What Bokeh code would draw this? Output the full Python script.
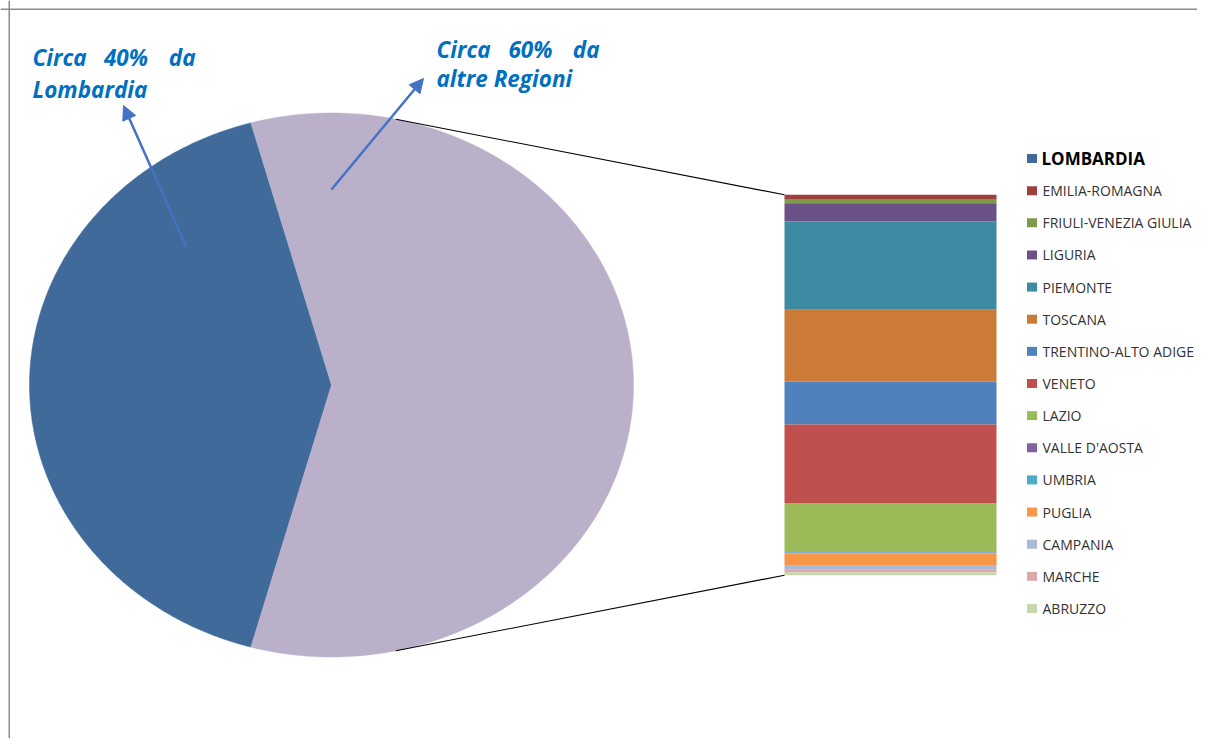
import numpy as np
from bokeh.plotting import figure
from bokeh.models import Range1d, Arrow, NormalHead, Span, ColumnDataSource
from bokeh.core.properties import value
from bokeh.embed import file_html
from bokeh.resources import INLINE

# ---- data (percent of total) ----
main_label = "LOMBARDIA"
main_value = 41.4
other_label = "ALTRE REGIONI"

regions = ["EMILIA-ROMAGNA", "FRIULI-VENEZIA GIULIA", "LIGURIA", "PIEMONTE",
           "TOSCANA", "TRENTINO-ALTO ADIGE", "VENETO", "LAZIO", "VALLE D'AOSTA",
           "UMBRIA", "PUGLIA", "CAMPANIA", "MARCHE", "ABRUZZO"]
region_values = [0.77, 0.53, 2.77, 13.64, 11.05, 6.62, 12.12, 7.55, 0.08,
                 0.13, 1.89, 0.53, 0.51, 0.42]
region_colors = ["#9E413E", "#7F9A48", "#6A5188", "#3C8BA3", "#CB7A38", "#4F81BD",
                 "#C0504D", "#9BBB59", "#8064A2", "#4BACC6", "#F79646", "#A9B9D8",
                 "#DBA9A8", "#C6D8AB"]
main_color = "#3F6A99"
other_color = "#BAB0CA"

ann_left = ["Circa", "40%", "da", "Lombardia"]
ann_right = ["Circa", "60%", "da", "altre Regioni"]

# ---- layout ----
W, H = 1197, 738
p = figure(width=W, height=H, output_backend="svg", toolbar_location=None,
           x_range=Range1d(0, W), y_range=Range1d(H, 0),
           min_border=0, outline_line_color=None)
p.axis.visible = False
p.grid.visible = False
p.background_fill_color = "white"

p.add_layout(Span(location=8.75, dimension="height", line_color="#8C8C8C", line_width=1.5))
p.add_layout(Span(location=8.75, dimension="width", line_color="#8C8C8C", line_width=1.5))

# ---- pie (elliptical) ----
cx, cy, rx, ry = 331, 384.5, 302, 272
other_value = sum(region_values)
total = main_value + other_value
main_span = 360.0 * main_value / total
a0 = 180 - main_span / 2
a1 = 180 + main_span / 2

def wedge_poly(start_deg, end_deg):
    t = np.radians(np.linspace(start_deg, end_deg, 240))
    xs = np.concatenate([[cx], cx + rx * np.cos(t), [cx]])
    ys = np.concatenate([[cy], cy - ry * np.sin(t), [cy]])
    return list(xs), list(ys)

xm, ym = wedge_poly(a0, a1)
xo, yo = wedge_poly(a1, a0 + 360)
p.patches(xs=[xm, xo], ys=[ym, yo], fill_color=[main_color, other_color],
          line_color=[main_color, other_color], line_width=0.5)

# ---- bar of pie ----
bar_left, bar_right, bar_top, bar_h = 784, 996, 194.3, 380.4
scale = bar_h / other_value
cum = np.concatenate([[0], np.cumsum(region_values)])
tops = bar_top + cum[:-1] * scale
bottoms = bar_top + cum[1:] * scale
src = ColumnDataSource(dict(top=tops, bottom=bottoms, color=region_colors, name=regions))
p.quad(left=bar_left, right=bar_right, top="top", bottom="bottom",
       fill_color="color", line_color=None, source=src)

# ---- connector lines ----
ang = np.radians(77.7)
p.segment(x0=[cx + rx * np.cos(ang), cx + rx * np.cos(-ang)],
          y0=[cy - ry * np.sin(ang), cy - ry * np.sin(-ang)],
          x1=[bar_left, bar_left], y1=[bar_top, bar_top + bar_h],
          line_color="black", line_width=1.1)

# ---- legend ----
leg_labels = [main_label] + regions
leg_colors = [main_color] + region_colors
leg_y = [158 + i * 32.14 for i in range(len(leg_labels))]
p.rect(x=1031.5, y=leg_y, width=10, height=9, fill_color=leg_colors, line_color=None)
p.text(x=[1041], y=[leg_y[0]], text=[leg_labels[0]], text_font=value("Open Sans"),
       text_font_size="17px", text_font_style="bold", text_color="#000000",
       text_baseline="middle", text_align="left")
p.text(x=[1042] * len(regions), y=leg_y[1:], text=leg_labels[1:],
       text_font=value("Open Sans"), text_font_size="14px", text_color="#333333",
       text_baseline="middle", text_align="left")

# ---- annotations ----
blue_txt = "#0070C0"
def words(xs, ys, txt, aligns):
    for x, y, t, a in zip(xs, ys, txt, aligns):
        p.text(x=[x], y=[y], text=[t], text_font=value("Open Sans"), text_font_size="22.5px",
               text_font_style="bold italic", text_color=blue_txt,
               text_baseline="alphabetic", text_align=a)

words([32, 125.5, 195, 32], [57, 57, 57, 89], ann_left, ["left", "center", "right", "left"])
words([436, 530, 599, 436], [49, 49, 49, 78], ann_right, ["left", "center", "right", "left"])

arrow_col = "#4472C4"
for (x0, y0, x1, y1) in [(186, 246.7, 123, 105), (331, 189, 423, 78)]:
    p.add_layout(Arrow(end=NormalHead(size=14, fill_color=arrow_col, line_color=arrow_col),
                       x_start=x0, y_start=y0, x_end=x1, y_end=y1,
                       line_color=arrow_col, line_width=2.5))

open("out.html", "w").write(file_html(p, INLINE))
